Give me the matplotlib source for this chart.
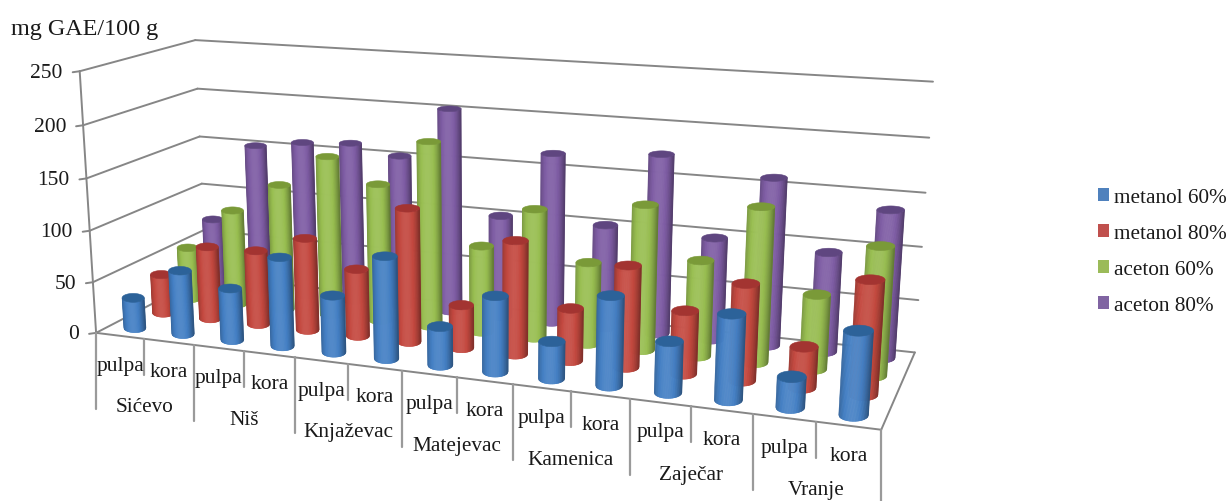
import numpy as np
import matplotlib
matplotlib.use("Agg")
import matplotlib.pyplot as plt
from matplotlib.collections import PolyCollection
from matplotlib.patches import Patch, Polygon

plt.rcParams["font.family"] = ["Liberation Serif", "DejaVu Serif"]

towns = ["Sićevo", "Niš", "Knjaževac", "Matejevac", "Kamenica", "Zaječar", "Vranje"]
parts = ["pulpa", "kora"]
value_ticks = [0, 50, 100, 150, 200, 250]

metanol_60 = [30, 62, 50, 85, 54, 96, 36, 70, 34, 81, 46, 76, 27, 73]
metanol_80 = [39, 72, 73, 90, 65, 128, 41, 107, 49, 94, 58, 88, 37, 102]
aceton_60 = [53, 96, 126, 158, 135, 180, 84, 124, 78, 137, 90, 144, 69, 118]
aceton_80 = [70, 151, 158, 161, 152, 202, 101, 166, 101, 173, 98, 159, 94, 138]

series_names = ["metanol 60%", "metanol 80%", "aceton 60%", "aceton 80%"]
series_values = [metanol_60, metanol_80, aceton_60, aceton_80]
series_colors = ["#437FC4", "#C4483F", "#98BE50", "#7E5CA4"]
legend_colors = ["#4F81BD", "#C0504D", "#9BBB59", "#8064A2"]
cap_colors = ["#2C6299", "#A33431", "#7A9A38", "#5F4680"]

GRID = "#868686"
DROP = "#9a9a9a"
VMAX = 250.0
N_CAT = len(towns) * len(parts)
N_SER = len(series_names)

# box corners in picture pixels, used to fit the perspective of the 3d box
box_world = [(0, 0, 0), (1, 0, 0), (1, 1, 0), (0, 1, 0), (0, 0, 1), (0, 1, 1), (1, 1, 1)]
box_pixel = [(96, 333), (881, 432), (915, 352), (206, 278), (80, 72), (195, 41), (933, 83)]


def fit_camera(world, pixel):
    rows = []
    for (x, y, z), (px, py) in zip(world, pixel):
        rows.append([x, y, z, 1, 0, 0, 0, 0, -px * x, -px * y, -px * z, -px])
        rows.append([0, 0, 0, 0, x, y, z, 1, -py * x, -py * y, -py * z, -py])
    return np.linalg.svd(np.array(rows, float))[2][-1].reshape(3, 4)


cam = fit_camera(box_world, box_pixel)


def proj(u, v, value):
    p = cam @ np.array([u / N_CAT, v / N_SER, value / VMAX, 1.0])
    return p[:2] / p[2]


def shade(color, f):
    rgb = np.array(matplotlib.colors.to_rgb(color))
    if f <= 1:
        return tuple(rgb * f)
    return tuple(rgb + (1 - rgb) * (f - 1))


def ellipse_size(u, v, value):
    # ellipse size follows the local width of one category and one series
    a = 0.23 * np.linalg.norm(proj(u + 0.5, v, value) - proj(u - 0.5, v, value))
    b = 0.30 * abs(proj(u, v + 0.5, value)[1] - proj(u, v - 0.5, value)[1])
    return a, max(b, 2.0)


def cylinder(ax, cat, ser, value, color, cap, z):
    u, v = cat + 0.5, ser + 0.5
    base, top = proj(u, v, 0), proj(u, v, value)
    a0, b0 = ellipse_size(u, v, 0)
    a1, b1 = ellipse_size(u, v, value)

    ts = np.linspace(-1, 1, 41)
    strips, colors = [], []
    for t0, t1 in zip(ts[:-1], ts[1:]):
        s0, s1 = np.sqrt(1 - t0 ** 2), np.sqrt(1 - t1 ** 2)
        strips.append([
            (base[0] + a0 * t0, base[1] + b0 * s0),
            (base[0] + a0 * t1, base[1] + b0 * s1),
            (top[0] + a1 * t1, top[1] + b1 * s1),
            (top[0] + a1 * t0, top[1] + b1 * s0),
        ])
        tm = (t0 + t1) / 2
        colors.append(shade(color, 1.08 - 0.36 * abs(tm + 0.1) ** 2.2))
    ax.add_collection(PolyCollection(strips, facecolors=colors, edgecolors=colors,
                                     linewidths=0.4, zorder=z))
    th = np.linspace(0, 2 * np.pi, 60)
    cap_xy = np.c_[top[0] + a1 * np.cos(th), top[1] + b1 * np.sin(th)]
    ax.add_patch(Polygon(cap_xy, closed=True, fc=cap, ec=cap, lw=0.4, zorder=z + 0.5))


fig = plt.figure(figsize=(12.29, 5.02), dpi=100)
ax = fig.add_axes([0, 0, 1, 1])
ax.set_xlim(0, 1229)
ax.set_ylim(502, 0)
ax.axis("off")


def line(a, b, lw=1.4, color=GRID):
    ax.plot([a[0], b[0]], [a[1], b[1]], color=color, lw=lw, solid_capstyle="round", zorder=1)


# walls and floor
for val in value_ticks:
    fl = proj(0, 0, val)
    bl = proj(0, N_SER, val)
    br = proj(N_CAT, N_SER, val)
    line(fl, bl)
    line(bl, br)
    line(fl, (fl[0] - 7, fl[1] + 1))
    ax.text(fl[0] - 17, fl[1] + 1, str(val), ha="right", va="center", fontsize=15.5, color="#1a1a1a")
line(proj(0, 0, 0), proj(0, 0, VMAX))
line(proj(0, 0, 0), proj(N_CAT, 0, 0))
line(proj(N_CAT, 0, 0), proj(N_CAT, N_SER, 0))

# category axis below the floor
for i in range(N_CAT + 1):
    e = proj(i, 0, 0)
    drop = 76 if i % len(parts) == 0 else 36
    line(e, (e[0], min(e[1] + drop, 502)), lw=1.6, color=DROP)
for i in range(N_CAT):
    e = proj(i + 0.5, 0, 0)
    ax.text(e[0], e[1] + 34, parts[i % len(parts)], ha="center", va="baseline",
            fontsize=15.5, color="#1a1a1a")
for g, town in enumerate(towns):
    e = proj(g * len(parts) + len(parts) / 2, 0, 0)
    ax.text(e[0], e[1] + 68, town, ha="center", va="center", fontsize=15.3, color="#1a1a1a")

# back row first so the front cylinders cover it
for ser in range(N_SER - 1, -1, -1):
    for cat, val in enumerate(series_values[ser]):
        cylinder(ax, cat, ser, val, series_colors[ser], cap_colors[ser], 10 + (N_SER - ser) * 2)

ax.text(11, 29, "mg GAE/100 g", ha="left", va="center", fontsize=17.4, color="#1a1a1a")

handles = [Patch(fc=c, ec="none") for c in legend_colors]
ax.legend(handles, series_names, loc="upper left", bbox_to_anchor=(1098, 189),
          bbox_transform=ax.transData, frameon=False, fontsize=15.3, borderpad=0,
          borderaxespad=0, labelspacing=0.80, handlelength=0.5, handleheight=0.5,
          handletextpad=0.25, labelcolor="#1a1a1a")

fig.savefig("out.png", dpi=100)
